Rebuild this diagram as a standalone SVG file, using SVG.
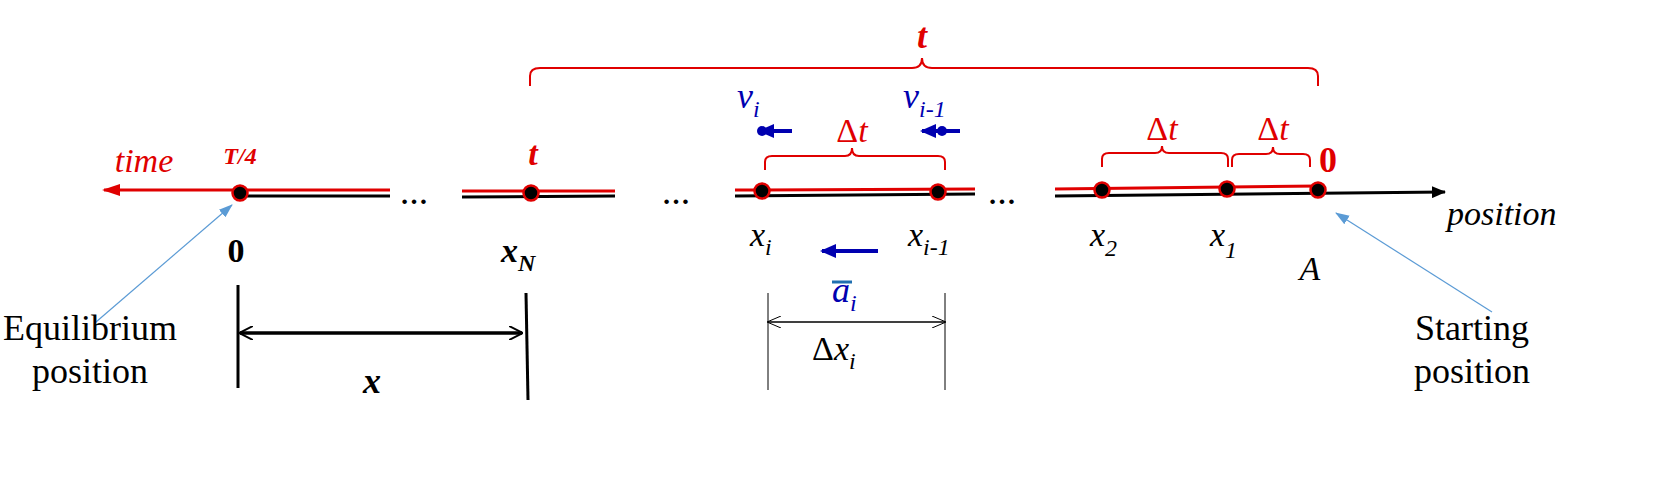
<svg xmlns="http://www.w3.org/2000/svg" width="1671" height="481" viewBox="0 0 1671 481">
<defs>
<style>
text{font-family:"Liberation Serif",serif}
.r{fill:#e00000}.b{fill:#0000b0}.k{fill:#000}
.it{font-style:italic}.bd{font-weight:bold}
.br{fill:none;stroke:#e00000;stroke-width:2}
.pt{fill:#000;stroke:#e00000;stroke-width:2.5}
</style>
<marker id="ak" markerWidth="14" markerHeight="12" refX="13" refY="6" orient="auto" markerUnits="userSpaceOnUse"><path d="M0,0L14,6L0,12z" fill="#000"/></marker>
<marker id="ar" markerWidth="18" markerHeight="12" refX="16" refY="6" orient="auto" markerUnits="userSpaceOnUse"><path d="M0,0L18,6L0,12z" fill="#e00000"/></marker>
<marker id="ab" markerWidth="16" markerHeight="14" refX="14" refY="7" orient="auto" markerUnits="userSpaceOnUse"><path d="M0,0L16,7L0,14z" fill="#0000b0"/></marker>
<marker id="al" markerWidth="14" markerHeight="14" refX="13" refY="7" orient="auto" markerUnits="userSpaceOnUse"><path d="M0,2L14,7L0,12z" fill="#5b9bd5"/></marker>
<marker id="ao" markerWidth="14" markerHeight="14" refX="13" refY="7" orient="auto" markerUnits="userSpaceOnUse"><path d="M0,0L14,7L0,14" fill="none" stroke="#000" stroke-width="2"/></marker>
<marker id="at" markerWidth="14" markerHeight="12" refX="13" refY="6" orient="auto" markerUnits="userSpaceOnUse"><path d="M0,0L14,6L0,12" fill="none" stroke="#000" stroke-width="1"/></marker>
</defs>
<g id="connectors">
<g stroke="#000" stroke-width="3" fill="none">
<line x1="238" y1="196" x2="390" y2="196"/>
<line x1="462" y1="197" x2="615" y2="196"/>
<line x1="735" y1="196" x2="975" y2="194"/>
<line x1="1055" y1="196" x2="1445" y2="192" marker-end="url(#ak)"/>
</g>
<g stroke="#e00000" stroke-width="3" fill="none">
<line x1="390" y1="190" x2="104" y2="190" marker-end="url(#ar)"/>
<line x1="462" y1="191" x2="615" y2="191"/>
<line x1="735" y1="190" x2="975" y2="189"/>
<line x1="1055" y1="189" x2="1318" y2="186"/>
</g>
<path class="br" d="M530,86V76Q530,68 540,68H912Q922,68 922,58Q922,68 932,68H1308Q1318,68 1318,76V86"/>
<path class="br" d="M765,170V162Q765,156 772,156H845Q852,156 852,148Q852,156 859,156H938Q945,156 945,162V170"/>
<path class="br" d="M1102,167V159Q1102,153 1109,153H1155Q1162,153 1162,146Q1162,153 1169,153H1221Q1228,153 1228,159V167"/>
<path class="br" d="M1232,167V160Q1232,154 1239,154H1266Q1273,154 1273,147Q1273,154 1280,154H1303Q1310,154 1310,160V167"/>
<g stroke="#0000b0" stroke-width="4">
<line x1="792" y1="131" x2="760" y2="131" marker-end="url(#ab)"/>
<line x1="960" y1="131" x2="922" y2="131" marker-end="url(#ab)"/>
<line x1="878" y1="251" x2="822" y2="251" marker-end="url(#ab)"/>
</g>
<circle cx="762" cy="131" r="5" class="b"/>
<circle cx="942" cy="131" r="5" class="b"/>
<g stroke="#000" stroke-width="1">
<line x1="768" y1="293" x2="768" y2="390"/>
<line x1="945" y1="293" x2="945" y2="390"/>
<line x1="768" y1="322" x2="945" y2="322" marker-end="url(#at)"/>
<line x1="945" y1="322" x2="768" y2="322" marker-end="url(#at)"/>
</g>
<g stroke="#000" stroke-width="3">
<line x1="238" y1="285" x2="238" y2="388"/>
<line x1="526" y1="293" x2="528" y2="400"/>
<line x1="240" y1="333" x2="522" y2="333" marker-end="url(#ao)"/>
<line x1="522" y1="333" x2="240" y2="333" marker-end="url(#ao)"/>
</g>
<g stroke="#5b9bd5" stroke-width="1.2">
<line x1="96" y1="322" x2="232" y2="205" marker-end="url(#al)"/>
<line x1="1492" y1="312" x2="1336" y2="213" marker-end="url(#al)"/>
</g>
</g>
<g id="points">
<circle cx="240" cy="193" r="7.5" class="pt"/>
<circle cx="531" cy="193" r="7.5" class="pt"/>
<circle cx="762" cy="191" r="7.5" class="pt"/>
<circle cx="938" cy="192" r="7.5" class="pt"/>
<circle cx="1102" cy="190" r="7.5" class="pt"/>
<circle cx="1227" cy="189" r="7.5" class="pt"/>
<circle cx="1318" cy="190" r="7.5" class="pt"/>
</g>
<g id="labels" font-size="34">
<text x="400" y="204" class="k bd" font-size="28">…</text>
<text x="662" y="204" class="k bd" font-size="28">…</text>
<text x="988" y="204" class="k bd" font-size="28">…</text>
<text x="922" y="48" class="r it bd" text-anchor="middle" font-size="36">t</text>
<text x="852" y="142" class="r" text-anchor="middle" font-size="34">Δ<tspan class="it">t</tspan></text>
<text x="1162" y="140" class="r" text-anchor="middle" font-size="34">Δ<tspan class="it">t</tspan></text>
<text x="1273" y="140" class="r" text-anchor="middle" font-size="34">Δ<tspan class="it">t</tspan></text>
<text x="1328" y="172" class="r bd" text-anchor="middle" font-size="36">0</text>
<text x="144" y="172" class="r it" text-anchor="middle" font-size="34">time</text>
<text x="240" y="164" class="r it bd" text-anchor="middle" font-size="24">T/4</text>
<text x="533" y="165" class="r it bd" text-anchor="middle" font-size="34">t</text>
<text x="737" y="108" class="b it" font-size="36">v<tspan font-size="24" dy="9">i</tspan></text>
<text x="903" y="108" class="b it" font-size="36">v<tspan font-size="24" dy="9">i-1</tspan></text>
<text x="750" y="246" class="k it">x<tspan font-size="24" dy="9">i</tspan></text>
<text x="908" y="246" class="k it">x<tspan font-size="24" dy="9">i-1</tspan></text>
<text x="1090" y="246" class="k it">x<tspan font-size="24" dy="10">2</tspan></text>
<text x="1210" y="246" class="k it">x<tspan font-size="24" dy="12">1</tspan></text>
<text x="1310" y="280" class="k it" text-anchor="middle">A</text>
<text x="1447" y="225" class="k it">position</text>
<text x="832" y="302" class="b it" font-size="36">a<tspan font-size="24" dy="9">i</tspan></text>
<line x1="832" y1="282" x2="852" y2="282" stroke="#1f6fb0" stroke-width="3"/>
<text x="812" y="360" class="k">Δ<tspan class="it">x</tspan><tspan class="it" font-size="24" dy="9">i</tspan></text>
<text x="236" y="262" class="k bd" text-anchor="middle" font-size="34">0</text>
<text x="501" y="262" class="k it bd" font-size="34">x<tspan font-size="24" dy="9">N</tspan></text>
<text x="372" y="393" class="k it bd" text-anchor="middle" font-size="36">x</text>
<text x="90" y="340" class="k" text-anchor="middle" font-size="36">Equilibrium</text>
<text x="90" y="383" class="k" text-anchor="middle" font-size="36">position</text>
<text x="1472" y="340" class="k" text-anchor="middle" font-size="36">Starting</text>
<text x="1472" y="383" class="k" text-anchor="middle" font-size="36">position</text>
</g>
</svg>
